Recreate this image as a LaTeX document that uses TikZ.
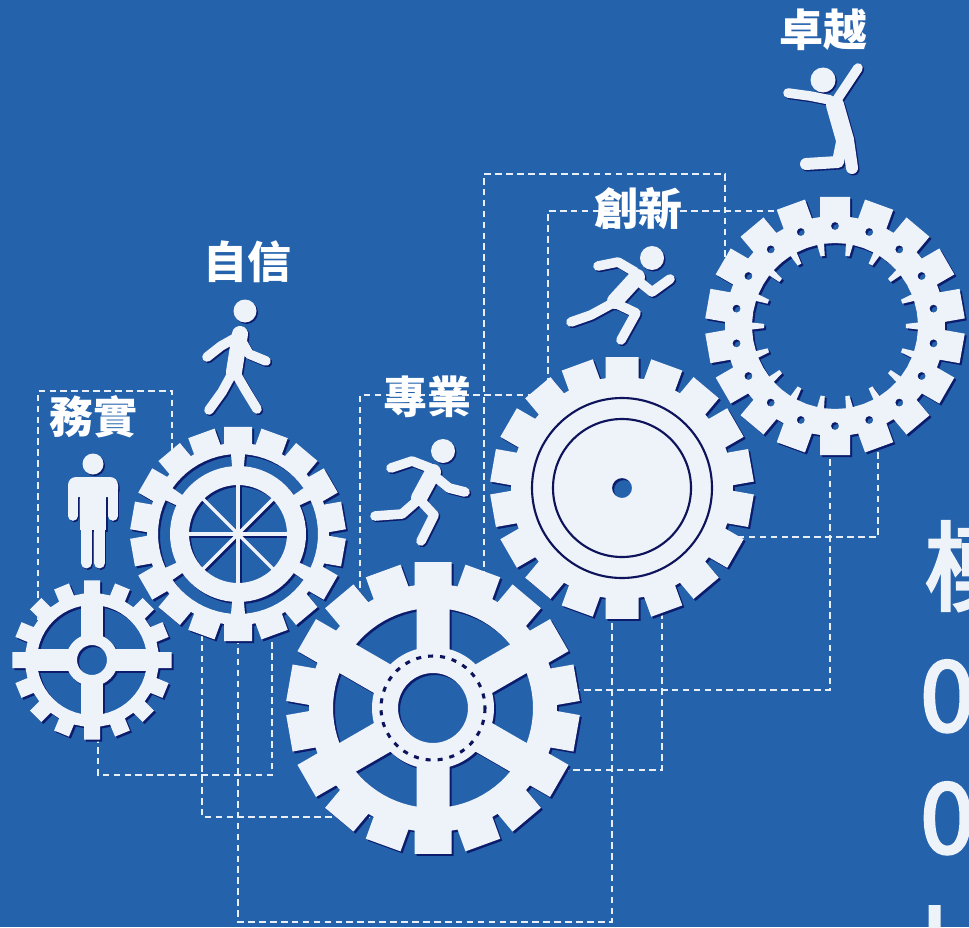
\documentclass[tikz,border=0pt]{standalone}
\usepackage{fontspec}
\newfontfamily\cjk{Noto Sans CJK TC}
\newfontfamily\cjkmid{Noto Sans CJK TC}[FakeBold=3]
\definecolor{bgblue}{RGB}{36,98,172}
\definecolor{gearwhite}{RGB}{238,242,249}
\definecolor{gearshadow}{RGB}{12,28,108}
\definecolor{inkline}{RGB}{14,20,92}
\definecolor{dashwhite}{RGB}{232,239,248}

\tikzset{
  guide/.style={draw=dashwhite, line width=2pt, dash pattern=on 5pt off 3.2pt},
  lbl/.style={text=white, font=\cjk\bfseries\fontsize{33}{33}\selectfont, inner sep=0pt},
  coltxt/.style={text=gearwhite, font=\cjkmid\fontsize{73}{73}\selectfont, inner sep=0pt, anchor=base west},
  limb/.style={line width=7.2pt, line cap=round, line join=round},
  trunk/.style={line width=12pt, line cap=round, line join=round},
}

% rectangular teeth: #1 count, #2 root radius, #3 tip radius, #4 half width, #5 first tooth angle
\newcommand\gearteeth[5]{%
  ({#5-asin(#4/#2)}:#2)
  \foreach \k [evaluate=\k as \ga using #5+(\k-1)*360/#1] in {1,...,#1}{
    -- ({\ga-asin(#4/#2)}:#2) -- ({\ga-asin(#4/#3)}:#3)
    -- ({\ga+asin(#4/#3)}:#3) -- ({\ga+asin(#4/#2)}:#2)
  } -- cycle
}
% window between two radii: #1 centre angle, #2 outer half span, #3 inner half span, #4 outer r, #5 inner r
\newcommand\ringsector[5]{%
  ({#1-#2}:#4)
  \foreach \i in {1,...,10}{ -- ({#1-#2+\i*#2/5}:#4) }
  -- ({#1+#3}:#5)
  \foreach \i in {1,...,10}{ -- ({#1+#3-\i*#3/5}:#5) }
  -- cycle
}

\newcommand\gearA[1]{%
  \fill[#1,even odd rule] \gearteeth{16}{67}{80}{8}{90}
    (0,0) circle[radius=15]
    \ringsector{45}{33.5}{20}{55}{26}
    \ringsector{135}{33.5}{20}{55}{26}
    \ringsector{225}{33.5}{20}{55}{26}
    \ringsector{315}{33.5}{20}{55}{26};
}
\newcommand\gearB[1]{%
  \fill[#1,even odd rule] \gearteeth{18}{91}{108}{14}{90}
    (0,0) circle[radius=49]
    \ringsector{0}{25}{25}{80}{68}
    \ringsector{60}{25}{25}{80}{68}
    \ringsector{120}{25}{25}{80}{68}
    \ringsector{180}{25}{25}{80}{68}
    \ringsector{240}{25}{25}{80}{68}
    \ringsector{300}{25}{25}{80}{68};
  \foreach \s in {0,45,...,315} \draw[#1, line width=2.6pt] (0,0) -- (\s:49.5);
}
\newcommand\gearC[1]{%
  \fill[#1,even odd rule] \gearteeth{18}{124}{147}{18.5}{90}
    (0,0) circle[radius=35]
    \ringsector{0}{20.5}{14.3}{100}{61}
    \ringsector{60}{20.5}{14.3}{100}{61}
    \ringsector{120}{20.5}{14.3}{100}{61}
    \ringsector{180}{20.5}{14.3}{100}{61}
    \ringsector{240}{20.5}{14.3}{100}{61}
    \ringsector{300}{20.5}{14.3}{100}{61};
}
\newcommand\gearD[1]{%
  \fill[#1,even odd rule] \gearteeth{18}{111}{132}{16.5}{90}
    (0,0) circle[radius=10];
}
\newcommand\gearE[1]{%
  \fill[#1,even odd rule] \gearteeth{18}{110}{130}{15}{90}
    (90:83)
    \foreach \k [evaluate=\k as \gb using 100+(\k-1)*20] in {1,...,18}{
      -- ({\gb-10}:83) -- ({\gb-2.4}:83) -- ({\gb-1.7}:71)
      -- ({\gb+1.7}:71) -- ({\gb+2.4}:83)
    } -- cycle
    \foreach \k in {0,...,17}{ ({90+\k*20}:100) circle[radius=4] };
}

% the five pictograms
\newcommand\people[1]{%
  % standing
  \fill[#1] (93,464) circle[radius=10.5];
  \fill[#1, rounded corners=6pt] (68,477) rectangle (118,497);
  \fill[#1] (80,480) rectangle (106,530);
  \draw[#1, limb] (73,486) -- (73,516) (113,486) -- (113,516);
  \draw[#1, line width=8.2pt, line cap=round] (86.5,524) -- (86.5,563) (99.5,524) -- (99.5,563);
  % walking
  \fill[#1] (245,311) circle[radius=11.5];
  \draw[#1, trunk] (240,334) -- (234,372);
  \draw[#1, limb] (237,337) -- (221,346) -- (207,357);
  \draw[#1, limb] (241,340) -- (249,354) -- (266,361);
  \draw[#1, limb] (233,372) -- (222,392) -- (209,410);
  \draw[#1, limb] (235,372) -- (246,391) -- (257,409);
  % running, lower
  \fill[#1] (443,451) circle[radius=12];
  \draw[#1, trunk] (433,472) -- (419,498);
  \draw[#1, limb] (430,468) -- (412,461) -- (391,468);
  \draw[#1, limb] (432,474) -- (449,488) -- (465,492);
  \draw[#1, limb] (418,500) -- (402,514) -- (375,516);
  \draw[#1, limb] (420,500) -- (434,515) -- (421,541);
  % running, upper
  \fill[#1] (652,258) circle[radius=12];
  \draw[#1, trunk] (637,277) -- (615,301);
  \draw[#1, limb] (635,272) -- (618,262) -- (598,266);
  \draw[#1, limb] (637,280) -- (652,292) -- (670,279);
  \draw[#1, limb] (613,303) -- (591,315) -- (571,322);
  \draw[#1, limb] (615,303) -- (636,313) -- (621,340);
  % jumping
  \fill[#1] (823,80) circle[radius=12.5];
  \draw[#1, line width=13.5pt, line cap=round, line join=round] (835,105) -- (845,140);
  \draw[#1, limb] (838,98) -- (850,80) -- (858,68);
  \draw[#1, limb] (830,100) -- (810,96) -- (788,93);
  \draw[#1, line width=9pt, line cap=round, line join=round] (842,142) -- (838,162) -- (806,164);
  \draw[#1, line width=9pt, line cap=round] (848,140) -- (852,168);
}

\begin{document}
\begin{tikzpicture}[x=0.75pt, y=-0.75pt]
\clip (0,0) rectangle (969,927);
\fill[bgblue] (0,0) rectangle (969,927);

% dashed guide frames behind the gears
\draw[guide] (38,620) -- (38,391) -- (172,391) -- (172,455);
\draw[guide] (98,725) -- (98,775) -- (272,775) -- (272,615);
\draw[guide] (202,612) -- (202,817) -- (370,817);
\draw[guide] (238,615) -- (238,922) -- (612,922) -- (612,595);
\draw[guide] (360,610) -- (360,395) -- (545,395);
\draw[guide] (484,600) -- (484,174) -- (725,174) -- (725,270);
\draw[guide] (548,385) -- (548,211) -- (800,211);
\draw[guide] (830,437) -- (830,690) -- (555,690);
\draw[guide] (878,430) -- (878,537) -- (720,537);
\draw[guide] (662,590) -- (662,770) -- (540,770);

% gears, each with its offset shadow
\begin{scope}[shift={(94,662)}] \gearA{gearshadow} \end{scope}
\begin{scope}[shift={(92,660)}] \gearA{gearwhite} \end{scope}

\begin{scope}[shift={(240,536)}] \gearB{gearshadow} \end{scope}
\begin{scope}[shift={(238,534)}] \gearB{gearwhite} \end{scope}

\begin{scope}[shift={(435,710)}] \gearC{gearshadow} \end{scope}
\begin{scope}[shift={(433,708)}]
  \gearC{gearwhite}
  \draw[inkline, line width=2.3pt, dash pattern=on 3.8pt off 5.2pt] (0,0) circle[radius=52];
\end{scope}

\begin{scope}[shift={(624,490)}] \gearD{gearshadow} \end{scope}
\begin{scope}[shift={(622,488)}]
  \gearD{gearwhite}
  \draw[inkline, line width=1.6pt] (0,0) circle[radius=90] (0,0) circle[radius=69];
\end{scope}

\begin{scope}[shift={(837,328)}] \gearE{gearshadow} \end{scope}
\begin{scope}[shift={(835,326)}] \gearE{gearwhite} \end{scope}

% figures
\begin{scope}[shift={(1.5,1.5)}] \people{gearshadow} \end{scope}
\people{gearwhite}

% labels
\node[lbl] (wushi)   at (93,417)  {務實};
\node[lbl] (zixin)   at (247,262) {自信};
\node[lbl] (zhuanye) at (427,397) {專業};
\node[lbl] (chuangxin) at (638,208) {創新};
\node[lbl] (zhuoyue) at (823,30)  {卓越};

% column text at the right edge
\node[coltxt] (colA) at (924,603) {模};
\node[coltxt] (colB) at (920,731) {0};
\node[coltxt] (colC) at (920,853) {0};
\node[coltxt] (colD) at (920,978) {L};
\end{tikzpicture}
\end{document}
